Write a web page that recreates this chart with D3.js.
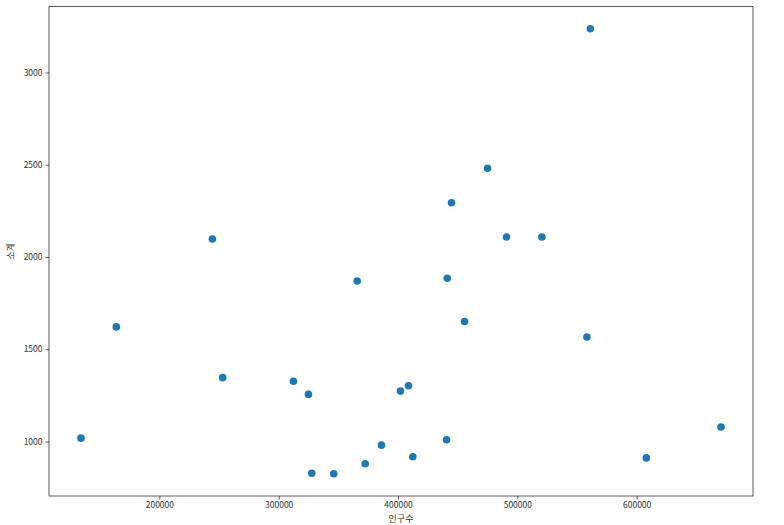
<!DOCTYPE html>
<html>
<head>
<meta charset="utf-8">
<script src="https://cdn.jsdelivr.net/npm/d3@7"></script>
<style>
  body { margin: 0; background: #fff; }
  text { font-family: "Noto Sans CJK KR", "Noto Sans", sans-serif; fill: #333; }
</style>
</head>
<body>
<div id="scatter"></div>
<script>
// population per district (x) and subtotal (y)
var population = [134340, 163940, 244440, 253080, 312370, 324950, 327720, 346170, 365790,
                  372490, 386160, 402100, 408800, 412410, 440670, 441260, 444860, 455770,
                  475050, 490990, 520590, 561170, 558320, 608130, 670690];
var subtotal = [1018, 1621, 2097, 1346, 1326, 1255, 828, 825, 1870,
                879, 980, 1273, 1302, 917, 1009, 1885, 2294, 1650,
                2481, 2108, 2108, 3237, 1566, 911, 1078];
var xTicks = [200000, 300000, 400000, 500000, 600000];
var yTicks = [1000, 1500, 2000, 2500, 3000];
var xLabel = "인구수", yLabel = "소계";

var margin = {top: 6.5, right: 31, bottom: 29, left: 49},
    width = 784 - margin.left - margin.right,
    height = 525 - margin.top - margin.bottom;

var svg = d3.select("#scatter")
  .append("svg")
    .attr("width", 784)
    .attr("height", 525)
  .append("g")
    .attr("transform", "translate(" + margin.left + "," + margin.top + ")");

var data = population.map(function(p, i) { return {pop: p, sum: subtotal[i]}; });

// matplotlib-style 5% margins
function pad(ext) {
  var d = (ext[1] - ext[0]) * 0.05;
  return [ext[0] - d, ext[1] + d];
}

var x = d3.scaleLinear()
  .domain(pad(d3.extent(population)))
  .range([0, width]);
var y = d3.scaleLinear()
  .domain(pad(d3.extent(subtotal)))
  .range([height, 0]);

var xAxis = svg.append("g")
  .attr("transform", "translate(0," + height + ")")
  .call(d3.axisBottom(x).tickValues(xTicks).tickSizeInner(3.5).tickSizeOuter(0).tickPadding(2.5).tickFormat(d3.format("d")));
var yAxis = svg.append("g")
  .call(d3.axisLeft(y).tickValues(yTicks).tickSizeInner(3.5).tickSizeOuter(0).tickPadding(3).tickFormat(d3.format("d")));

[xAxis, yAxis].forEach(function(a) {
  a.select(".domain").remove();
  a.selectAll("line").attr("stroke", "#333").attr("stroke-width", 0.8);
  a.selectAll("text").style("font-size", "8.5px").style("fill", "#333");
});

// frame
svg.append("rect")
  .attr("x", 0).attr("y", 0)
  .attr("width", width).attr("height", height)
  .attr("fill", "none")
  .attr("stroke", "#333")
  .attr("stroke-width", 0.8);

svg.append("g")
  .selectAll("circle")
  .data(data)
  .enter()
  .append("circle")
    .attr("cx", function(d) { return x(d.pop); })
    .attr("cy", function(d) { return y(d.sum); })
    .attr("r", 3.8)
    .style("fill", "#1f77b4");

svg.append("text")
  .attr("x", width / 2)
  .attr("y", height + 25.5)
  .attr("text-anchor", "middle")
  .style("font-size", "9px")
  .text(xLabel);

svg.append("text")
  .attr("transform", "translate(" + (-35) + "," + (height / 2) + ") rotate(-90)")
  .attr("text-anchor", "middle")
  .style("font-size", "9px")
  .text(yLabel);
</script>
</body>
</html>
